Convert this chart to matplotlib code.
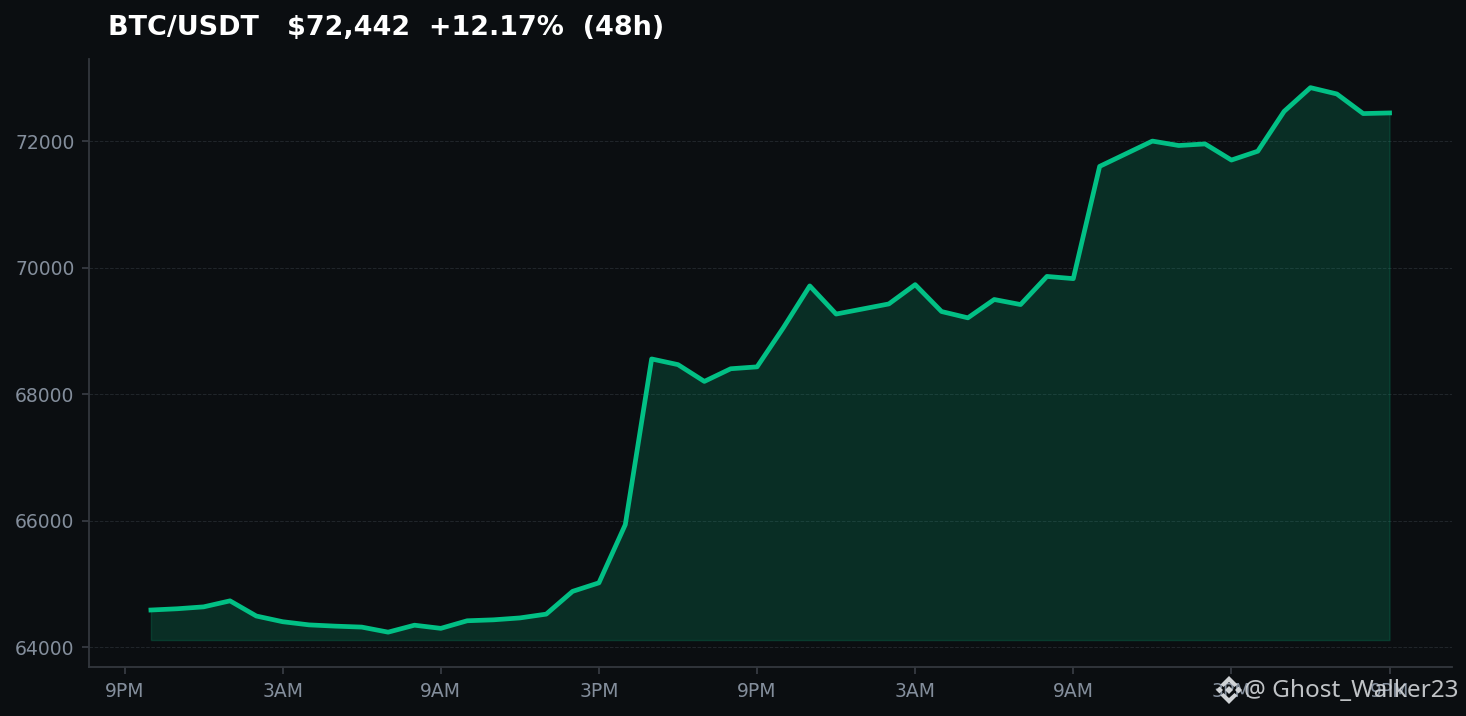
import matplotlib
matplotlib.use("Agg")
import matplotlib.pyplot as plt
from matplotlib.patches import Polygon

# BTC/USDT hourly closes, 48 hours
hours = list(range(1, 49))
prices = [64585, 64605, 64635, 64730, 64490, 64400, 64350, 64330, 64315, 64235,
          64345, 64295, 64415, 64430, 64460, 64520, 64880, 65015, 65935, 68555,
          68465, 68200, 68400, 68430, 69050, 69710, 69265, 69345, 69425, 69730,
          69305, 69205, 69495, 69415, 69860, 69825, 71600, 71800, 72000, 71930,
          71955, 71700, 71840, 72470, 72845, 72745, 72435, 72445]
fill_floor = 64110
tick_hours = [0, 6, 12, 18, 24, 30, 36, 42, 48]
tick_labels = ["9PM", "3AM", "9AM", "3PM", "9PM", "3AM", "9AM", "3PM", "9PM"]
price_ticks = [64000, 66000, 68000, 70000, 72000]

BG = "#0b0e11"
GREEN = "#02c085"
W, H = 1466, 716

fig = plt.figure(figsize=(W / 100, H / 100), dpi=100, facecolor=BG)
ax = fig.add_axes([89 / W, 1 - 667 / H, (1452 - 89) / W, (667 - 59.5) / H], facecolor=BG)

# Price line and area
ax.fill_between(hours, prices, fill_floor, color=GREEN, alpha=0.18)
ax.plot(hours, prices, color=GREEN, linewidth=3.4)

ax.set_xlim(-1.35, 50.37)
ax.set_ylim(63684, 73290)
ax.set_xticks(tick_hours)
ax.set_xticklabels(tick_labels)
ax.set_yticks(price_ticks)
ax.tick_params(colors="#848e9c", labelsize=13.5, length=5, width=1.2, color="#3a3f46", pad=5.5)
ax.grid(axis="y", color="#2b3036", linestyle="--", linewidth=0.7, alpha=0.7)
ax.set_axisbelow(True)

for side in ["top", "right"]:
    ax.spines[side].set_visible(False)
for side in ["left", "bottom"]:
    ax.spines[side].set_color("#33383e")
    ax.spines[side].set_linewidth(1.3)

fig.text(108 / W, 1 - 28 / H, "BTC/USDT   $72,442  +12.17%  (48h)", color="white",
         fontsize=19.45, fontweight="bold", va="center", ha="left")

# Watermark
fig.text(1458 / W, 1 - 691 / H, "@ Ghost_Walker23", color="#d0d3d6", alpha=0.92,
         fontsize=17.5, family="Noto Sans", va="center", ha="right")


def logo_piece(points, cx=1229, cy=690):
    xy = [((cx + px) / W, 1 - (cy + py) / H) for px, py in points]
    fig.add_artist(Polygon(xy, closed=True, transform=fig.transFigure,
                           facecolor="#d0d3d6", edgecolor="none"))


logo_piece([(0, -4), (4, 0), (0, 4), (-4, 0)])
logo_piece([(-9.5, -3.5), (-6, 0), (-9.5, 3.5), (-13, 0)])
logo_piece([(9.5, -3.5), (13, 0), (9.5, 3.5), (6, 0)])
logo_piece([(0, -14), (8.5, -5.5), (5.5, -3), (0, -8), (-5.5, -3), (-8.5, -5.5)])
logo_piece([(0, 14), (8.5, 5.5), (5.5, 3), (0, 8), (-5.5, 3), (-8.5, 5.5)])

fig.savefig("out.png", dpi=100, facecolor=BG)
